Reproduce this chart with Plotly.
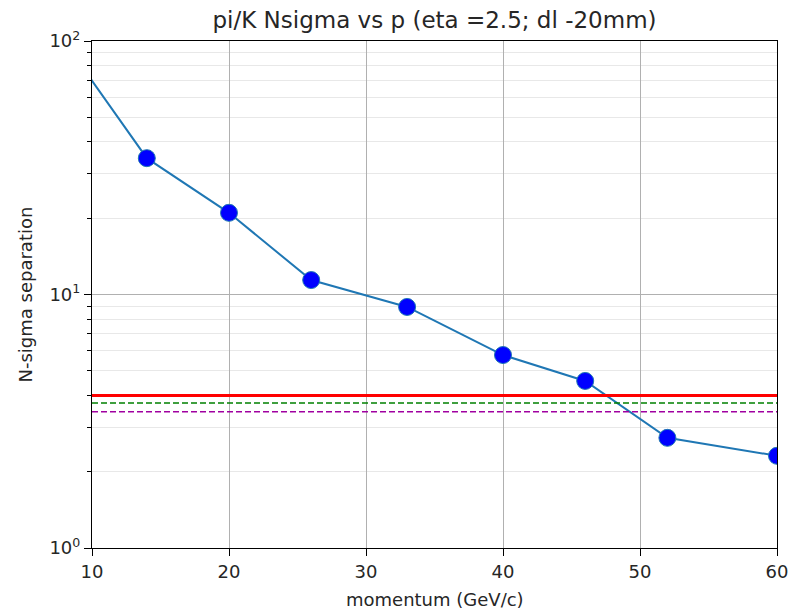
import plotly.graph_objects as go

momentum = [8, 14, 20, 26, 33, 40, 46, 52, 60]
nsigma = [99, 34.5, 21, 11.4, 8.93, 5.77, 4.56, 2.72, 2.31]
red_level = 4.0
green_level = 3.73
purple_level = 3.45
x_range = [10, 60]
y_ticks = [1, 10, 100]
y_ticktext = ["10<sup>0</sup>", "10<sup>1</sup>", "10<sup>2</sup>"]
x_ticks = [10, 20, 30, 40, 50, 60]
minor_y = [v * d for d in (1, 10) for v in range(2, 10)]

FONT = "DejaVu Sans"
TXT = "#262626"
W, H = 791, 611
L, R, T, B = 92, 14, 41, 63

fig = go.Figure()

fig.add_trace(go.Scatter(
    x=momentum, y=nsigma, mode="lines+markers",
    line=dict(color="#1f77b4", width=2),
    marker=dict(color="#0000ff", size=17, line=dict(color="#1f77b4", width=1)),
    cliponaxis=True, showlegend=False,
))

for lvl, col, dash, w in [(red_level, "#ff0000", "solid", 3),
                          (green_level, "#008000", "6px,3px", 1.5),
                          (purple_level, "#a000a0", "6px,3px", 1.5)]:
    fig.add_trace(go.Scatter(
        x=x_range, y=[lvl, lvl], mode="lines",
        line=dict(color=col, width=w, dash=dash),
        showlegend=False, hoverinfo="skip",
    ))

fig.update_layout(
    width=W, height=H,
    margin=dict(l=L, r=R, t=T, b=B, autoexpand=False),
    paper_bgcolor="white", plot_bgcolor="white",
    font=dict(family=FONT, size=18, color=TXT),
    title=dict(text="pi/K Nsigma vs p (eta =2.5; dl -20mm)",
               x=(L + (W - R)) / 2 / W, xref="container", xanchor="center",
               y=1 - 20 / H, yref="container", yanchor="middle",
               font=dict(family=FONT, size=23, color=TXT)),
    annotations=[
        dict(text="momentum (GeV/c)", xref="paper", yref="paper",
             x=0.5, y=-(599 - (H - B)) / (H - T - B), xanchor="center", yanchor="middle",
             showarrow=False, font=dict(family=FONT, size=18, color=TXT)),
        dict(text="N-sigma separation", xref="paper", yref="paper",
             x=-(L - 25) / (W - L - R), y=0.5, xanchor="center", yanchor="middle",
             textangle=-90, showarrow=False, font=dict(family=FONT, size=18, color=TXT)),
    ],
)

fig.update_xaxes(
    range=x_range, tickvals=x_ticks, automargin=False,
    showgrid=True, gridcolor="#b0b0b0", gridwidth=1,
    showline=True, linecolor="black", linewidth=1.2, mirror=True,
    ticks="outside", ticklen=7, tickcolor="black",
    tickfont=dict(family=FONT, size=18, color=TXT),
    zeroline=False,
)

fig.update_yaxes(
    type="log", range=[0, 2], automargin=False,
    tickvals=y_ticks, ticktext=y_ticktext,
    showgrid=True, gridcolor="#b0b0b0", gridwidth=1,
    minor=dict(ticks="outside", ticklen=4, tickcolor="black", showgrid=True,
               gridcolor="#e8e8e8", gridwidth=1, tickvals=minor_y),
    showline=True, linecolor="black", linewidth=1.2, mirror=True,
    ticks="outside", ticklen=7, tickcolor="black",
    tickfont=dict(family=FONT, size=18, color=TXT),
    zeroline=False,
)

fig.write_html("out.html")
